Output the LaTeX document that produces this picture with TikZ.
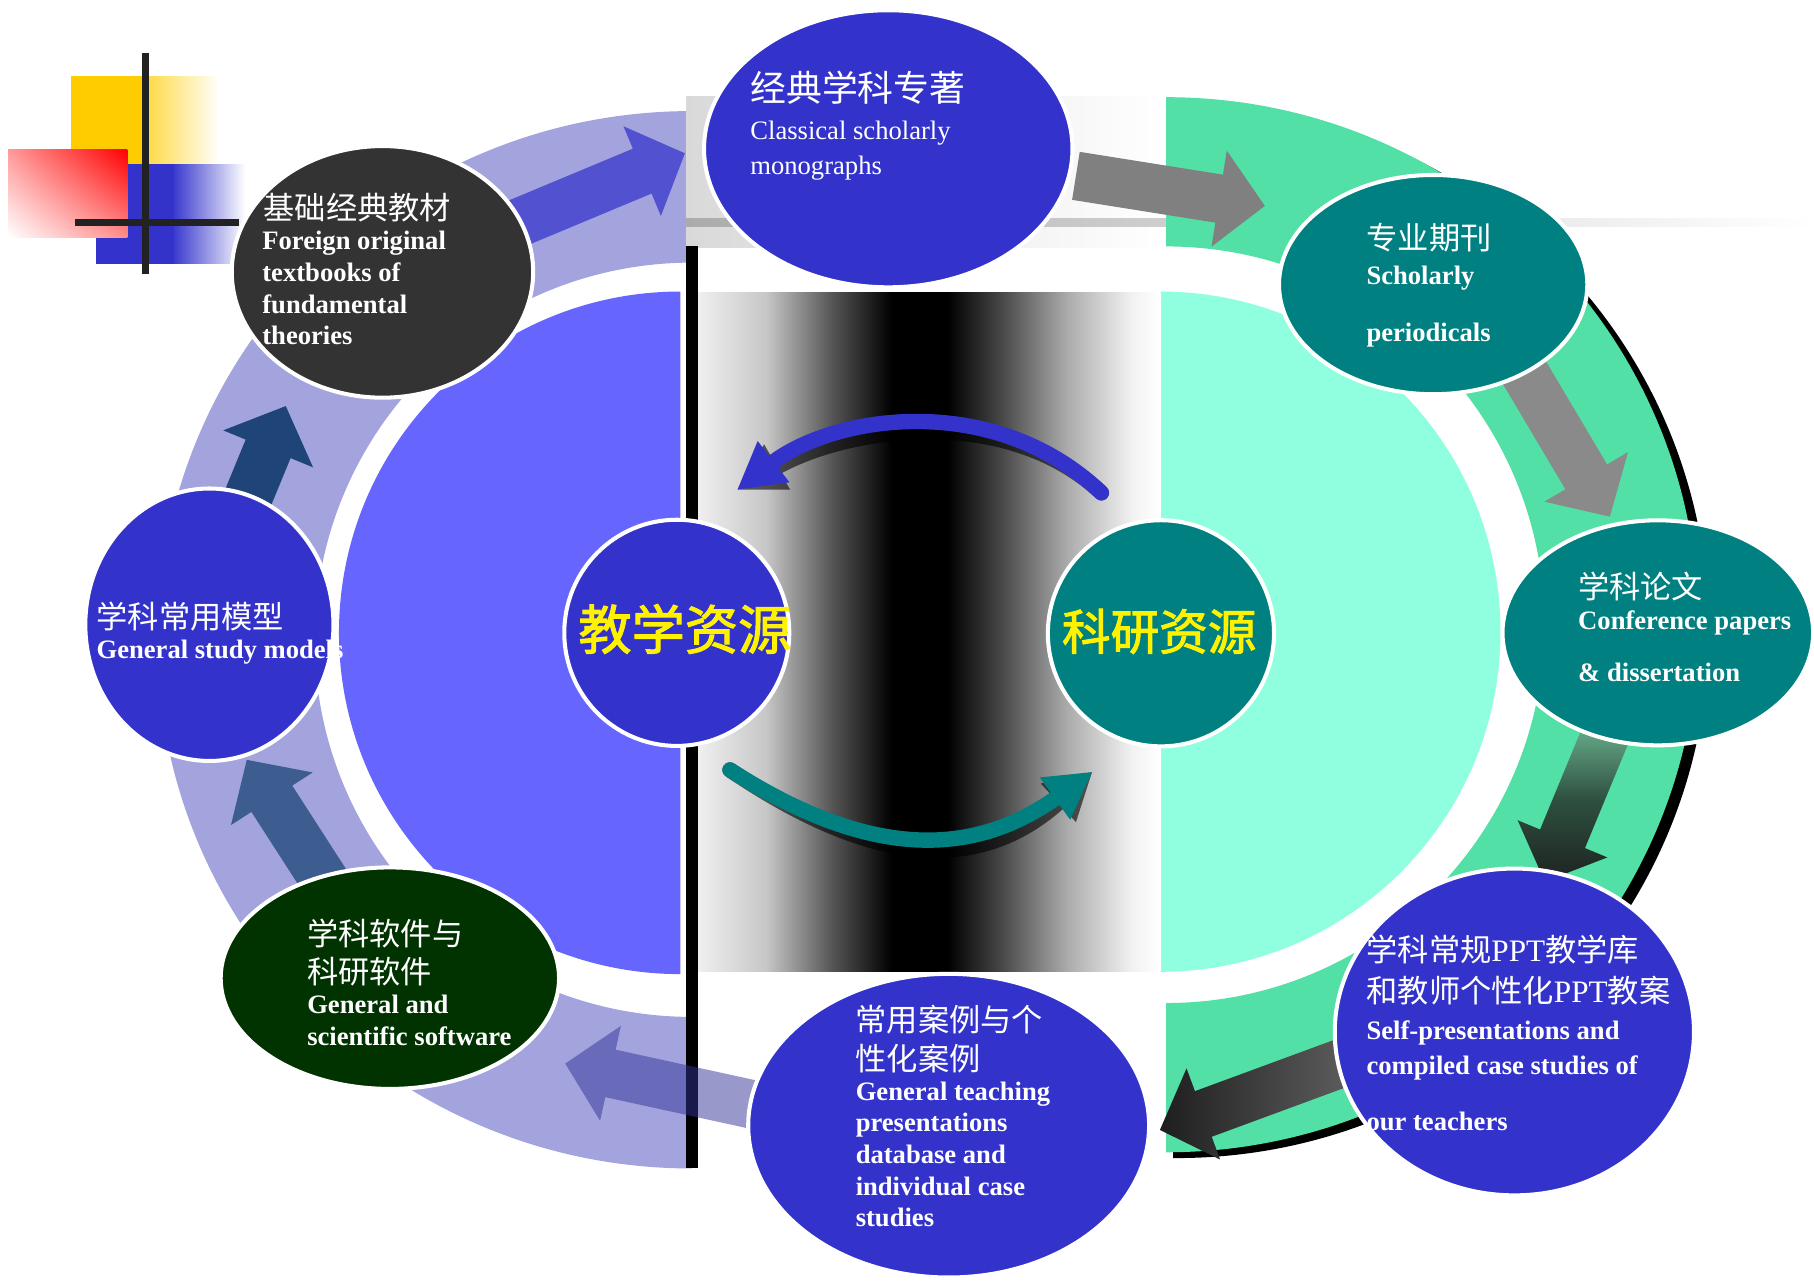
\documentclass[tikz,border=0pt]{standalone}
\usepackage{fontspec}
\setmainfont{Liberation Serif}
\newfontfamily\cjk{Noto Sans CJK SC}
\newfontfamily\cjkbold[FakeBold=2]{Noto Sans CJK SC}
\usetikzlibrary{shapes.geometric,arrows.meta,calc,shadings}

\definecolor{lav}{HTML}{A3A3DD}
\definecolor{discblue}{HTML}{6666FF}
\definecolor{nodeblue}{HTML}{3333CC}
\definecolor{darknode}{HTML}{333333}
\definecolor{tealc}{HTML}{008080}
\definecolor{darkgreen}{HTML}{003300}
\definecolor{ringgreen}{HTML}{52E0A6}
\definecolor{mint}{HTML}{8FFFE0}
\definecolor{yel}{HTML}{FFCC00}
\definecolor{arrA}{HTML}{5252D0}
\definecolor{arrB}{HTML}{1F4478}
\definecolor{arrC}{HTML}{3D5C90}
\definecolor{arrD}{HTML}{333399}
\definecolor{arrE}{HTML}{808080}
\definecolor{arrF}{HTML}{8A8A8A}
\definecolor{gtop}{HTML}{6FB893}
\definecolor{gmid}{HTML}{2E5040}
\definecolor{gbot}{HTML}{1E2220}
\definecolor{hleft}{HTML}{1E1E1E}
\definecolor{hright}{HTML}{5E5E5E}
\definecolor{linec}{HTML}{222222}
\definecolor{rectgrey}{HTML}{D9D9D9}
\definecolor{bargrey}{HTML}{ABABAB}

\pgfdeclarehorizontalshading{bandshade}{100bp}{%
  color(0bp)=(black!6); color(25bp)=(black!6); color(32.4bp)=(black!22);
  color(39.6bp)=(black!67); color(46bp)=(black); color(52bp)=(black);
  color(57.6bp)=(black!73); color(64.9bp)=(black!33); color(72bp)=(black!5);
  color(75bp)=(white); color(100bp)=(white)}

\newcommand\blockarrow[3]{%
  \coordinate (ba-h) at ($(#2)!40pt!(#1)$);
  \path[#3] ($(#1)!21pt!90:(#2)$) -- ($(ba-h)!21pt!90:(#2)$) -- ($(ba-h)!42pt!90:(#2)$) -- (#2)
    -- ($(ba-h)!42pt!-90:(#2)$) -- ($(ba-h)!21pt!-90:(#2)$) -- ($(#1)!21pt!-90:(#2)$) -- cycle;
}

\begin{document}
\begin{tikzpicture}[x=1pt,y=-1pt,
  ell/.style={ellipse, draw=white, line width=3.5pt, inner sep=0pt},
  en/.style={anchor=base west, inner sep=0pt, text=white, font=\bfseries\fontsize{23}{27}\selectfont},
  enr/.style={anchor=base west, inner sep=0pt, text=white, font=\fontsize{23}{27}\selectfont},
  cn/.style={anchor=base west, inner sep=0pt, text=white, font=\cjk\fontsize{27}{32}\selectfont},
  big/.style={inner sep=0pt, text=yellow, font=\cjkbold\fontsize{#1}{#1}\selectfont},
  curv/.style={line width=13.3pt, line cap=round, -{Triangle[length=40pt,width=42pt]}},
]
\useasboundingbox (0,0) rectangle (1568,1111);
\fill[white] (0,0) rectangle (1568,1111);

% top-left decoration
\fill[yel] (61,66) rectangle (125,142);
\shade[left color=yel!75, right color=white] (125,66) rectangle (190,142);
\fill[nodeblue] (83,142) rectangle (151,228);
\shade[left color=nodeblue!95, right color=white] (151,142) rectangle (212,228);
\shade[upper left=red!40, upper right=red, lower left=white, lower right=red!45] (7,129) rectangle (110,205);
\fill[linec] (122.5,46) rectangle (128.5,237);
\fill[linec] (65,189) rectangle (207,195);

% left lavender ring and blue disc
\begin{scope}
  \clip (0,0) rectangle (598,1111);
  \fill[lav, even odd rule] (598,553) ellipse [x radius=462pt, y radius=457pt]
                            (598,553) ellipse [x radius=326pt, y radius=326pt];
\end{scope}
\begin{scope}
  \clip (0,0) rectangle (588,1111);
  \fill[discblue] (588,547) circle [radius=295pt];
\end{scope}

% top grey rectangle and bar
\shade[left color=rectgrey, right color=white] (593,83) rectangle (1008,214);
\shade[left color=bargrey, right color=white] (593,188.5) rectangle (1568,196);

% right green ring with shadow, mint disc
\begin{scope}
  \clip (1014,0) rectangle (1568,1111);
  \fill[black, even odd rule] (1017,545) ellipse [x radius=460pt, y radius=456pt]
                              (1017,545) ellipse [x radius=340pt, y radius=340pt];
\end{scope}
\begin{scope}
  \clip (1008,0) rectangle (1568,1111);
  \fill[ringgreen, even odd rule] (1008,540) ellipse [x radius=460pt, y radius=456pt]
                                  (1008,540) ellipse [x radius=327pt, y radius=327pt];
\end{scope}
\begin{scope}
  \clip (1003,0) rectangle (1568,1111);
  \fill[mint] (1003,546) circle [radius=294pt];
\end{scope}

% middle gradient band and black line
\shade[shading=bandshade] (603,253) rectangle (1003,840);
\fill[black] (593,213) rectangle (603,1010);

% block arrows
\coordinate (aT) at (426,201.8);   \coordinate (aB) at (592,132.5);
\coordinate (bT) at (205,453);     \coordinate (bB) at (247,351);
\coordinate (cT) at (294.6,783);   \coordinate (cB) at (213.3,656.8);
\coordinate (dT) at (684,962);     \coordinate (dB) at (488.6,919.3);
\coordinate (eT) at (930,152);     \coordinate (eB) at (1093.3,178);
\coordinate (fT) at (1315,317.6);  \coordinate (fB) at (1391.5,446.6);
\coordinate (gT) at (1390.8,628);  \coordinate (gB) at (1335.3,762);
\coordinate (hT) at (1162,918);    \coordinate (hB) at (1002.6,976.7);
\blockarrow{aT}{aB}{fill=arrA}
\blockarrow{bT}{bB}{fill=arrB}
\blockarrow{cT}{cB}{fill=arrC}
\blockarrow{dT}{dB}{fill=arrD, fill opacity=0.5}
\blockarrow{eT}{eB}{fill=arrE}
\blockarrow{fT}{fB}{fill=arrF}
\blockarrow{gT}{gB}{top color=gtop, bottom color=gbot, middle color=gmid}
\blockarrow{hT}{hB}{left color=hleft, right color=hright}

% curved arrows with shadows
\coordinate (cbS) at (952,426);   \coordinate (cbE) at (637,423.5);
\coordinate (ctS) at (631,665.5); \coordinate (ctE) at (944.4,667);
\begin{scope}[transparency group, opacity=0.6]
  \draw[curv, black, shift={(10,11)}] (cbS) .. controls (860,338) and (722,358) .. (cbE);
\end{scope}
\draw[curv, nodeblue] (cbS) .. controls (860,338) and (722,358) .. (cbE);
\begin{scope}[transparency group, opacity=0.6]
  \draw[curv, black, shift={(10,11)}] (ctS) .. controls (750,742) and (840,742) .. (ctE);
\end{scope}
\draw[curv, tealc] (ctS) .. controls (750,742) and (840,742) .. (ctE);

% nodes
\node[ell, fill=nodeblue, minimum width=318.5pt, minimum height=239.5pt] (n1) at (767.8,128.6) {};
\node[ell, fill=darknode, minimum width=260.5pt, minimum height=217.5pt] (n2) at (330.6,235) {};
\node[ell, fill=tealc, minimum width=266.5pt, minimum height=189.5pt] (n3) at (1238.8,246) {};
\node[ell, fill=tealc, minimum width=268.5pt, minimum height=194.5pt] (n4) at (1433,547) {};
\node[ell, fill=nodeblue, minimum width=310.5pt, minimum height=282.5pt] (n5) at (1309,892) {};
\node[ell, fill=nodeblue, minimum width=346.5pt, minimum height=262.5pt] (n6) at (820,973) {};
\node[ell, fill=darkgreen, minimum width=292.5pt, minimum height=191.5pt] (n7) at (337,845.5) {};
\node[ell, fill=nodeblue, minimum width=214.5pt, minimum height=235.5pt] (n8) at (181,540) {};
\node[ell, fill=nodeblue, minimum width=194.5pt, minimum height=195.5pt] (n9) at (585,547) {};
\node[ell, fill=tealc, minimum width=195.5pt, minimum height=195.5pt] (n10) at (1003.5,547.4) {};

% texts
\node[cn, font=\cjk\fontsize{31}{36}\selectfont] (t1a) at (648.4,88) {经典学科专著};
\node[enr] (t1b) at (648.4,121) {Classical scholarly};
\node[enr] (t1c) at (648.4,151) {monographs};

\node[cn] (t2a) at (227.7,189.6) {基础经典教材};
\node[en] (t2b) at (226.6,216) {Foreign original};
\node[en] (t2c) at (226.6,243.4) {textbooks of};
\node[en] (t2d) at (226.6,270.7) {fundamental};
\node[en] (t2e) at (226.6,298) {theories};

\node[cn] (t3a) at (1181,216) {专业期刊};
\node[en] (t3b) at (1181,246) {Scholarly};
\node[en] (t3c) at (1181,295) {periodicals};

\node[cn] (t4a) at (1364,517) {学科论文};
\node[en] (t4b) at (1364,544.4) {Conference papers};
\node[en] (t4c) at (1364,589) {\& dissertation};

\node[cn] (t5a) at (1181,830.7) {学科常规{\rmfamily PPT}教学库};
\node[cn] (t5b) at (1181,866.7) {和教师个性化{\rmfamily PPT}教案};
\node[en] (t5c) at (1181,898.3) {Self-presentations and};
\node[en] (t5d) at (1181,929.1) {compiled case studies of};
\node[en] (t5e) at (1181,977.3) {our teachers};

\node[cn] (t6a) at (739.5,892) {常用案例与个};
\node[cn] (t6b) at (739.5,925) {性化案例};
\node[en] (t6c) at (739.5,951) {General teaching};
\node[en] (t6d) at (739.5,978.4) {presentations};
\node[en] (t6e) at (739.5,1005.7) {database and};
\node[en] (t6f) at (739.5,1033) {individual case};
\node[en] (t6g) at (739.5,1060.4) {studies};

\node[cn] (t7a) at (265.4,817) {学科软件与};
\node[cn] (t7b) at (265.4,850) {科研软件};
\node[en] (t7c) at (265.4,876) {General and};
\node[en] (t7d) at (265.4,903.5) {scientific software};

\node[cn] (t8a) at (83.3,543) {学科常用模型};
\node[en] (t8b) at (83.3,569) {General study models};

\node[big=46] (t9) at (592,543.7) {教学资源};
\node[big=42] (t10) at (1002,545.8) {科研资源};
\end{tikzpicture}
\end{document}
